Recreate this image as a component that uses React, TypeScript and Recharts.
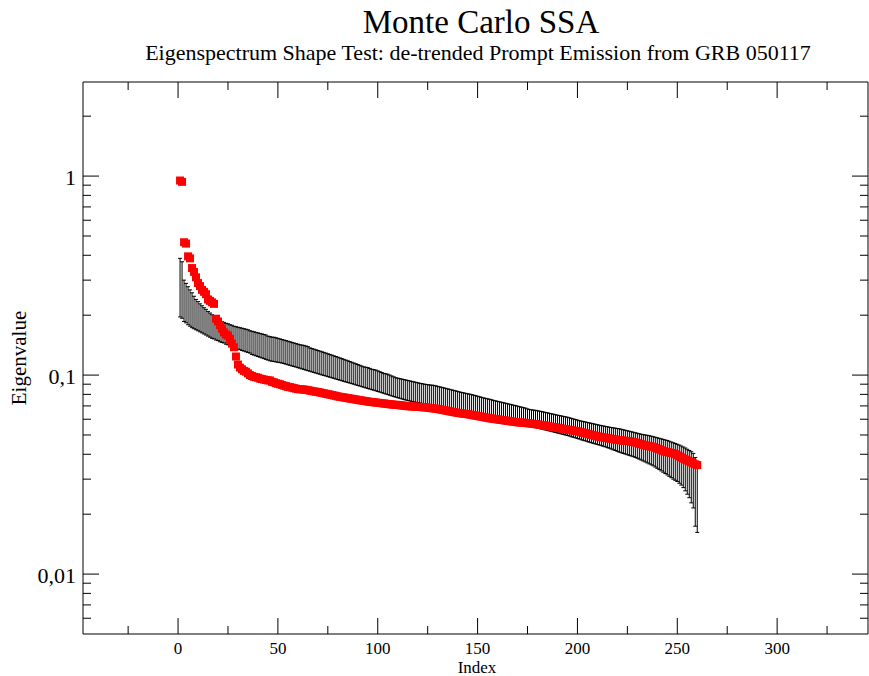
import React from 'react'
import { ScatterChart, Scatter, XAxis, YAxis, ZAxis, ErrorBar } from 'recharts'

// eigenvalues of the GRB 050117 series (red squares), index 1..260
const EIGEN = [
  0.95, 0.935, 0.465, 0.458, 0.395, 0.386, 0.345, 0.33, 0.31, 0.29,
  0.28, 0.268, 0.262, 0.255, 0.24, 0.236, 0.232, 0.228, 0.192, 0.186,
  0.178, 0.171, 0.164, 0.16, 0.158, 0.152, 0.144, 0.138, 0.124, 0.113,
  0.109, 0.107, 0.105, 0.104, 0.102, 0.1, 0.099, 0.098, 0.0975, 0.097,
  0.096, 0.0955, 0.095, 0.0945, 0.094, 0.094, 0.0925, 0.092, 0.091, 0.0905,
  0.09, 0.0892, 0.0885, 0.088, 0.0873, 0.087, 0.0865, 0.086, 0.0855, 0.085,
  0.0849, 0.0848, 0.0846, 0.0843, 0.084, 0.0836, 0.0832, 0.0828, 0.0825, 0.0822,
  0.0818, 0.0814, 0.081, 0.0806, 0.0802, 0.0798, 0.0794, 0.079, 0.0786, 0.0781,
  0.0778, 0.0775, 0.0772, 0.0769, 0.0766, 0.0763, 0.076, 0.0757, 0.0754, 0.0751,
  0.0748, 0.0745, 0.0742, 0.074, 0.0737, 0.0734, 0.0732, 0.073, 0.0728, 0.0726,
  0.0724, 0.0722, 0.072, 0.0718, 0.0716, 0.0714, 0.0712, 0.071, 0.0709, 0.0708,
  0.0706, 0.0704, 0.0702, 0.07, 0.0698, 0.0697, 0.0696, 0.0695, 0.0694, 0.0693,
  0.0692, 0.069, 0.0689, 0.0688, 0.0686, 0.0684, 0.0682, 0.068, 0.0678, 0.0676,
  0.0673, 0.067, 0.0667, 0.0664, 0.0661, 0.0658, 0.0655, 0.0652, 0.0649, 0.0646,
  0.0644, 0.0642, 0.064, 0.0638, 0.0636, 0.0634, 0.0631, 0.0628, 0.0626, 0.0623,
  0.062, 0.0618, 0.0615, 0.0612, 0.061, 0.0607, 0.0605, 0.0603, 0.0601, 0.0599,
  0.0597, 0.0595, 0.0593, 0.0591, 0.0589, 0.0587, 0.0585, 0.0583, 0.0581, 0.0579,
  0.0578, 0.0577, 0.0576, 0.0575, 0.0573, 0.0572, 0.057, 0.0568, 0.0567, 0.0565,
  0.0563, 0.0561, 0.0559, 0.0557, 0.0554, 0.0552, 0.055, 0.0548, 0.0546, 0.0544,
  0.0541, 0.0539, 0.0536, 0.0534, 0.0532, 0.053, 0.0528, 0.0526, 0.0524, 0.0522,
  0.0519, 0.0516, 0.0513, 0.051, 0.0507, 0.0504, 0.0501, 0.0498, 0.0495, 0.0492,
  0.049, 0.0488, 0.0486, 0.0484, 0.0482, 0.048, 0.0478, 0.0476, 0.0474, 0.0472,
  0.0471, 0.047, 0.0468, 0.0467, 0.0466, 0.0465, 0.0463, 0.0461, 0.0458, 0.0455,
  0.0452, 0.0449, 0.0446, 0.0443, 0.0441, 0.0439, 0.0437, 0.0435, 0.0431, 0.0427,
  0.0423, 0.0419, 0.0415, 0.0412, 0.041, 0.0408, 0.0406, 0.0404, 0.04, 0.0395,
  0.039, 0.0385, 0.038, 0.0376, 0.0372, 0.0368, 0.0364, 0.036, 0.0356, 0.0353,
]

// Monte Carlo surrogate range, upper end
const MC_HIGH = [
  0.386, 0.371, 0.3, 0.289, 0.278, 0.268, 0.259, 0.249, 0.24, 0.234,
  0.228, 0.223, 0.218, 0.214, 0.209, 0.205, 0.201, 0.197, 0.193, 0.19,
  0.188, 0.186, 0.184, 0.182, 0.181, 0.179, 0.178, 0.176, 0.175, 0.174,
  0.173, 0.172, 0.171, 0.17, 0.169, 0.167, 0.166, 0.165, 0.164, 0.163,
  0.162, 0.161, 0.16, 0.159, 0.157, 0.156, 0.155, 0.155, 0.154, 0.153,
  0.152, 0.151, 0.15, 0.149, 0.148, 0.147, 0.146, 0.145, 0.144, 0.143,
  0.142, 0.1415, 0.141, 0.14, 0.139, 0.137, 0.136, 0.135, 0.134, 0.133,
  0.132, 0.131, 0.13, 0.129, 0.128, 0.127, 0.126, 0.125, 0.124, 0.123,
  0.122, 0.121, 0.12, 0.119, 0.118, 0.117, 0.116, 0.115, 0.114, 0.113,
  0.112, 0.111, 0.11, 0.1095, 0.109, 0.108, 0.107, 0.1065, 0.106, 0.105,
  0.104, 0.103, 0.102, 0.1015, 0.101, 0.1, 0.099, 0.098, 0.097, 0.0965,
  0.096, 0.0955, 0.095, 0.0945, 0.094, 0.0935, 0.093, 0.0925, 0.092, 0.0915,
  0.091, 0.0906, 0.0902, 0.0898, 0.0895, 0.0892, 0.089, 0.0888, 0.0883, 0.0878,
  0.0873, 0.0868, 0.0863, 0.0858, 0.0853, 0.0848, 0.0843, 0.0838, 0.0833, 0.0828,
  0.0823, 0.0818, 0.0814, 0.081, 0.0806, 0.0802, 0.0798, 0.0793, 0.0788, 0.0783,
  0.0778, 0.0773, 0.0768, 0.0764, 0.076, 0.0756, 0.0752, 0.0746, 0.0742, 0.0738,
  0.0734, 0.073, 0.0726, 0.0722, 0.0718, 0.0714, 0.071, 0.0706, 0.0702, 0.0698,
  0.0694, 0.069, 0.0686, 0.0682, 0.0676, 0.0672, 0.0669, 0.0667, 0.0665, 0.0662,
  0.0659, 0.0656, 0.0652, 0.0649, 0.0646, 0.0642, 0.0639, 0.0636, 0.0632, 0.0629,
  0.0626, 0.0623, 0.062, 0.0617, 0.0614, 0.061, 0.0606, 0.0602, 0.0598, 0.0594,
  0.059, 0.0587, 0.0584, 0.0581, 0.0578, 0.0575, 0.0572, 0.0569, 0.0566, 0.0563,
  0.056, 0.0557, 0.0555, 0.0552, 0.055, 0.0547, 0.0545, 0.0543, 0.0541, 0.0539,
  0.0537, 0.0534, 0.0531, 0.0528, 0.0525, 0.0522, 0.0519, 0.0516, 0.0513, 0.051,
  0.0507, 0.0504, 0.0502, 0.05, 0.0498, 0.0496, 0.0493, 0.049, 0.0487, 0.0484,
  0.0481, 0.0478, 0.0475, 0.0472, 0.0469, 0.0465, 0.0461, 0.0457, 0.0453, 0.0449,
  0.0445, 0.044, 0.0435, 0.043, 0.0424, 0.0418, 0.0412, 0.0404, 0.0385, 0.0365,
]

// Monte Carlo surrogate range, lower end
const MC_LOW = [
  0.196, 0.193, 0.186, 0.183, 0.179, 0.176, 0.173, 0.171, 0.169, 0.167,
  0.165, 0.163, 0.161, 0.159, 0.157, 0.155, 0.153, 0.152, 0.15, 0.149,
  0.147, 0.146, 0.145, 0.143, 0.142, 0.141, 0.139, 0.138, 0.136, 0.135,
  0.134, 0.133, 0.132, 0.131, 0.13, 0.129, 0.127, 0.126, 0.125, 0.124,
  0.123, 0.122, 0.121, 0.12, 0.119, 0.118, 0.1175, 0.117, 0.1165, 0.116,
  0.1155, 0.115, 0.1143, 0.1135, 0.1127, 0.112, 0.1112, 0.1105, 0.1098, 0.109,
  0.1083, 0.1075, 0.1068, 0.106, 0.1053, 0.1046, 0.1038, 0.1031, 0.1024, 0.1017,
  0.101, 0.1003, 0.0996, 0.099, 0.0983, 0.0976, 0.097, 0.0963, 0.0956, 0.095,
  0.0943, 0.0937, 0.093, 0.0924, 0.0918, 0.0912, 0.0906, 0.09, 0.0893, 0.0887,
  0.0881, 0.0875, 0.0869, 0.0863, 0.0857, 0.0851, 0.0845, 0.084, 0.0834, 0.0828,
  0.0822, 0.0816, 0.081, 0.0804, 0.0798, 0.0792, 0.0786, 0.078, 0.0775, 0.077,
  0.0765, 0.076, 0.0755, 0.075, 0.0746, 0.0742, 0.0738, 0.0734, 0.073, 0.0727,
  0.0724, 0.0721, 0.0718, 0.0715, 0.0712, 0.0709, 0.0706, 0.0703, 0.07, 0.0697,
  0.0693, 0.069, 0.0687, 0.0684, 0.068, 0.0677, 0.0674, 0.0671, 0.0667, 0.0664,
  0.0661, 0.0658, 0.0655, 0.0652, 0.0648, 0.0644, 0.064, 0.0636, 0.0632, 0.0629,
  0.0625, 0.0622, 0.0619, 0.0616, 0.0613, 0.061, 0.0607, 0.0604, 0.06, 0.0597,
  0.0594, 0.0591, 0.0588, 0.0585, 0.0582, 0.0579, 0.0576, 0.0573, 0.057, 0.0567,
  0.0564, 0.0562, 0.056, 0.0558, 0.0556, 0.0554, 0.0551, 0.0548, 0.0545, 0.0542,
  0.0539, 0.0536, 0.0533, 0.053, 0.0527, 0.0524, 0.0521, 0.0518, 0.0515, 0.0512,
  0.0509, 0.0506, 0.0503, 0.05, 0.0497, 0.0494, 0.049, 0.0487, 0.0484, 0.048,
  0.0477, 0.0473, 0.047, 0.0467, 0.0463, 0.046, 0.0457, 0.0454, 0.0451, 0.0448,
  0.0445, 0.0442, 0.0439, 0.0436, 0.0432, 0.0429, 0.0425, 0.0421, 0.0418, 0.0414,
  0.041, 0.0407, 0.0404, 0.0401, 0.0398, 0.0395, 0.0392, 0.0389, 0.0386, 0.0382,
  0.0378, 0.0374, 0.037, 0.0366, 0.0362, 0.0358, 0.0354, 0.035, 0.0345, 0.034,
  0.0335, 0.033, 0.0325, 0.032, 0.0315, 0.031, 0.0305, 0.03, 0.0296, 0.0292,
  0.0286, 0.028, 0.0272, 0.0262, 0.0252, 0.0242, 0.0228, 0.0215, 0.0174, 0.0162,
]

const X_MAJOR = [0, 50, 100, 150, 200, 250, 300]
const X_MINOR = [-25, 25, 75, 125, 175, 225, 275, 325]
const Y_MAJOR = [0.01, 0.1, 1]
const Y_MINOR = [
  0.006, 0.007, 0.008, 0.009,
  0.02, 0.03, 0.04, 0.05, 0.06, 0.07, 0.08, 0.09,
  0.2, 0.3, 0.4, 0.5, 0.6, 0.7, 0.8, 0.9,
  2,
]

const X_DOMAIN = [-47.6, 345.5]
const Y_DOMAIN = [0.005, 2.97]

const rows = EIGEN.map((v, i) => ({
  idx: i + 1,
  eig: v,
  lo: MC_LOW[i],
  range: [0, MC_HIGH[i] - MC_LOW[i]],
}))

const xTicks = [...X_MINOR, ...X_MAJOR].sort((a, b) => a - b)
const yTicks = [...Y_MINOR, ...Y_MAJOR].sort((a, b) => a - b)

const FONT = '"Liberation Serif", "Times New Roman", serif'
const MAJOR_LEN = 16
const MINOR_LEN = 8

const fmt = (v: number) => String(v).replace('.', ',')

// ticks point into the plot on every side
const LeftTick = ({ x, y, payload }: any) => {
  const major = Y_MAJOR.includes(payload.value)
  return (
    <g>
      <line x1={x} x2={x + (major ? MAJOR_LEN : MINOR_LEN)} y1={y} y2={y} stroke="#000" />
      {major && (
        <text x={x - 7} y={y + 1} textAnchor="end" dominantBaseline="central"
          fontSize={22} fontFamily={FONT} fill="#000">
          {fmt(payload.value)}
        </text>
      )}
    </g>
  )
}

const RightTick = ({ x, y, payload }: any) => {
  const major = Y_MAJOR.includes(payload.value)
  return <line x1={x} x2={x - (major ? MAJOR_LEN : MINOR_LEN)} y1={y} y2={y} stroke="#000" />
}

const BottomTick = ({ x, y, payload }: any) => {
  const major = X_MAJOR.includes(payload.value)
  return (
    <g>
      <line x1={x} x2={x} y1={y} y2={y - (major ? MAJOR_LEN : MINOR_LEN)} stroke="#000" />
      {major && (
        <text x={x} y={y + 14} textAnchor="middle" dominantBaseline="central"
          fontSize={17} fontFamily={FONT} fill="#000">
          {payload.value}
        </text>
      )}
    </g>
  )
}

const TopTick = ({ x, y, payload }: any) => {
  const major = X_MAJOR.includes(payload.value)
  return <line x1={x} x2={x} y1={y} y2={y + (major ? MAJOR_LEN : MINOR_LEN)} stroke="#000" />
}

const NoShape = () => <g />

export default function App() {
  return (
    <div style={{ position: 'absolute', left: 0, top: 0, width: 869, height: 676, background: '#fff' }}>
      <ScatterChart width={869} height={676} margin={{ top: 81, right: 0, bottom: 41, left: 82 }}>
        <XAxis xAxisId="b" orientation="bottom" type="number" dataKey="idx" domain={X_DOMAIN}
          allowDataOverflow ticks={xTicks} interval={0} height={1} tickSize={0} tickMargin={0}
          tickLine={false} tick={<BottomTick />} axisLine={{ stroke: '#000' }} />
        <XAxis xAxisId="t" orientation="top" type="number" dataKey="idx" domain={X_DOMAIN}
          allowDataOverflow ticks={xTicks} interval={0} height={1} tickSize={0} tickMargin={0}
          tickLine={false} tick={<TopTick />} axisLine={{ stroke: '#000' }} />
        <YAxis yAxisId="l" orientation="left" type="number" dataKey="eig" scale="log" domain={Y_DOMAIN}
          allowDataOverflow ticks={yTicks} interval={0} width={1} tickSize={0} tickMargin={0}
          tickLine={false} tick={<LeftTick />} axisLine={{ stroke: '#000' }} />
        <YAxis yAxisId="r" orientation="right" type="number" dataKey="lo" scale="log" domain={Y_DOMAIN}
          allowDataOverflow ticks={yTicks} interval={0} width={1} tickSize={0} tickMargin={0}
          tickLine={false} tick={<RightTick />} axisLine={{ stroke: '#000' }} />
        <ZAxis range={[40, 40]} />

        {/* Monte Carlo range bars */}
        <Scatter data={rows} xAxisId="t" yAxisId="r" shape={<NoShape />} isAnimationActive={false}>
          <ErrorBar dataKey="range" direction="y" width={2} stroke="#000" strokeWidth={1}
            isAnimationActive={false} />
        </Scatter>

        {/* data eigenvalues */}
        <Scatter data={rows} xAxisId="b" yAxisId="l" shape="square" fill="#ff0000"
          isAnimationActive={false} />
      </ScatterChart>

      <svg width={869} height={676} style={{ position: 'absolute', left: 0, top: 0, pointerEvents: 'none' }}>
        <text x={481} y={33} textAnchor="middle" fontSize={33} fontFamily={FONT} fill="#000">
          Monte Carlo SSA
        </text>
        <text x={478} y={60} textAnchor="middle" fontSize={22} fontFamily={FONT} fill="#000">
          Eigenspectrum Shape Test: de-trended Prompt Emission from GRB 050117
        </text>
        <text x={477} y={672.5} textAnchor="middle" fontSize={17} fontFamily={FONT} fill="#000">
          Index
        </text>
        <text transform="translate(26 358) rotate(-90)" textAnchor="middle" fontSize={21}
          fontFamily={FONT} fill="#000">
          Eigenvalue
        </text>
      </svg>
    </div>
  )
}
